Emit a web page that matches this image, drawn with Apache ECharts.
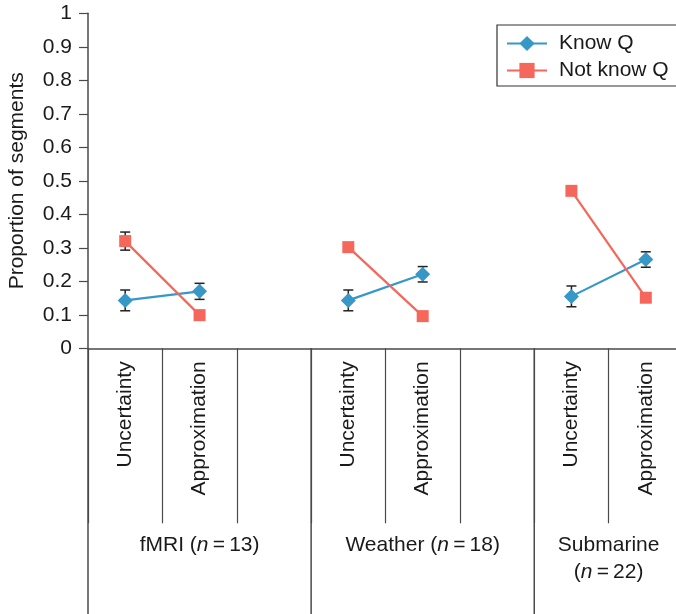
<!DOCTYPE html>
<html>
<head>
<meta charset="utf-8">
<script src="https://cdn.jsdelivr.net/npm/echarts@6/dist/echarts.min.js"></script>
<style>
html,body{margin:0;padding:0;background:#fff;}
#chart{width:676px;height:614px;}
</style>
</head>
<body>
<div id="chart"></div>
<script>
// ---- data ----
var categories = ['Uncertainty', 'Approximation', '', 'Uncertainty', 'Approximation', '', 'Uncertainty', 'Approximation'];
var knowQ      = [0.143, 0.170, null, 0.143, 0.221, null, 0.155, 0.265];
var knowQErr   = [0.031, 0.024, null, 0.031, 0.023, null, 0.031, 0.023];
var notKnowQ   = [0.320, 0.099, null, 0.302, 0.096, null, 0.470, 0.151];
var notKnowQErr= [0.027, null, null, null, null, null, null, null];
var groupLabels = ['fMRI ({i|n}\u2009=\u200913)', 'Weather ({i|n}\u2009=\u200918)', 'Submarine\n({i|n}\u2009=\u200922)'];
var groupStarts = [0, 3, 6];
var groupSpans  = [3, 3, 2];
var yTicks = [0, 0.1, 0.2, 0.3, 0.4, 0.5, 0.6, 0.7, 0.8, 0.9, 1];

var FONT = '"Liberation Sans", Arial, Helvetica, sans-serif';
var FS = 21;
var TXT = '#1a1a1a';
var AX = '#4a4a4a';
var BLUE = '#3797c7';
var RED = '#f5675b';

function errData(vals, errs) {
  var out = [];
  for (var i = 0; i < vals.length; i++) {
    if (vals[i] != null && errs[i] != null) out.push([i, vals[i], errs[i]]);
  }
  return out;
}

function errRender(params, api) {
  var x = api.value(0), v = api.value(1), e = api.value(2);
  var top = api.coord([x, v + e]);
  var bot = api.coord([x, v - e]);
  var hw = 5;
  var st = { stroke: '#222', lineWidth: 1.5 };
  return {
    type: 'group',
    children: [
      { type: 'line', shape: { x1: top[0], y1: top[1], x2: bot[0], y2: bot[1] }, style: st },
      { type: 'line', shape: { x1: top[0] - hw, y1: top[1], x2: top[0] + hw, y2: top[1] }, style: st },
      { type: 'line', shape: { x1: bot[0] - hw, y1: bot[1], x2: bot[0] + hw, y2: bot[1] }, style: st }
    ]
  };
}

var groupData = groupStarts.map(function (s, i) { return [s, 0, groupSpans[i], i]; });

function groupRender(params, api) {
  var start = api.value(0), span = api.value(2), gi = api.value(3);
  var c = api.coord([start, 0]);
  var bw = api.size([1, 0])[0];
  var x0 = c[0] - bw / 2;
  var y0 = c[1];
  var cx = x0 + span * bw / 2;
  return {
    type: 'group',
    children: [
      { type: 'line', shape: { x1: x0, y1: y0, x2: x0, y2: api.getHeight() },
        style: { stroke: AX, lineWidth: 1.5 } },
      { type: 'text', x: cx, y: y0 + 183,
        style: {
          text: groupLabels[gi], fill: TXT, font: FS + 'px ' + FONT,
          align: 'center', verticalAlign: 'top', lineHeight: 27,
          rich: { i: { fontStyle: 'italic', fontSize: FS, fontFamily: FONT, lineHeight: 27, fill: TXT } }
        } }
    ]
  };
}

var chart = echarts.init(document.getElementById('chart'), null, { renderer: 'canvas' });
chart.setOption({
  animation: false,
  backgroundColor: '#fff',
  textStyle: { fontFamily: FONT },
  grid: { left: 88, top: 13.3, width: 595, bottom: 265.7, containLabel: false, outerBoundsMode: 'none' },
  legend: {
    data: ['Know Q', 'Not know Q'],
    orient: 'vertical',
    left: 497, top: 25,
    padding: [8, 8, 5, 9],
    itemGap: 6,
    itemWidth: 40, itemHeight: 19,
    borderColor: '#333', borderWidth: 1.2,
    textStyle: { fontSize: FS, color: TXT, fontFamily: FONT, padding: [0, 0, 0, 7], lineHeight: 21 }
  },
  xAxis: {
    type: 'category',
    data: categories,
    boundaryGap: true,
    axisLine: { show: true, lineStyle: { color: AX, width: 1.5 } },
    axisTick: { show: true, length: 175, lineStyle: { color: AX, width: 1.2 } },
    axisLabel: { rotate: 90, margin: 13, fontSize: FS, color: TXT, fontFamily: FONT, interval: 0 },
    splitLine: { show: false }
  },
  yAxis: {
    type: 'value',
    min: 0, max: 1, interval: 0.1,
    name: 'Proportion of segments',
    nameLocation: 'middle', nameRotate: 90, nameGap: 60,
    nameTextStyle: { fontSize: FS, color: TXT, fontFamily: FONT },
    axisLine: { show: true, lineStyle: { color: AX, width: 1.5 } },
    axisTick: { show: true, length: 9, lineStyle: { color: AX, width: 1.2 } },
    axisLabel: { margin: 16, fontSize: FS, color: TXT, fontFamily: FONT,
      formatter: function (v) { return String(+v.toFixed(1)); } },
    splitLine: { show: false }
  },
  series: [
    { type: 'custom', name: 'groups', coordinateSystem: 'cartesian2d', clip: false, silent: true,
      data: groupData, renderItem: groupRender, z: 1 },
    { type: 'custom', name: 'errK', coordinateSystem: 'cartesian2d', clip: false, silent: true,
      data: errData(knowQ, knowQErr), renderItem: errRender, z: 2 },
    { type: 'custom', name: 'errN', coordinateSystem: 'cartesian2d', clip: false, silent: true,
      data: errData(notKnowQ, notKnowQErr), renderItem: errRender, z: 2 },
    { type: 'line', name: 'Know Q', data: knowQ, connectNulls: false,
      symbol: 'diamond', symbolSize: 15, showAllSymbol: true,
      lineStyle: { color: BLUE, width: 2.2 }, itemStyle: { color: BLUE }, z: 3 },
    { type: 'line', name: 'Not know Q', data: notKnowQ, connectNulls: false,
      symbol: 'rect', symbolSize: 12, showAllSymbol: true,
      lineStyle: { color: RED, width: 2.2 }, itemStyle: { color: RED }, z: 3 }
  ]
});
</script>
</body>
</html>
